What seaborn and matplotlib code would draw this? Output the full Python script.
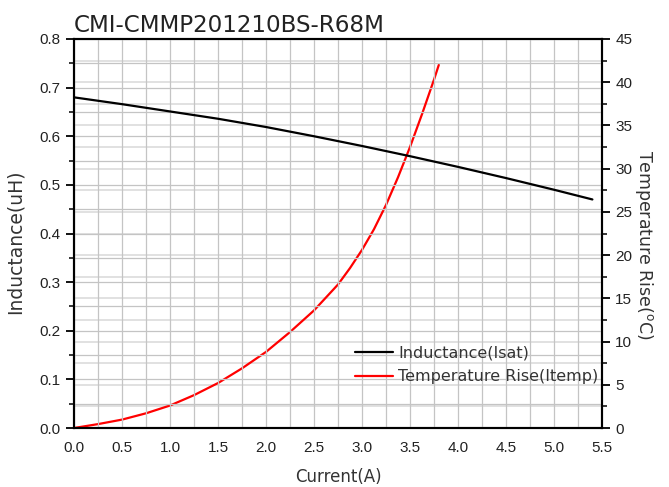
import numpy as np
import pandas as pd
import matplotlib
matplotlib.use("Agg")
import matplotlib.pyplot as plt
import seaborn as sns
from matplotlib.ticker import MultipleLocator

# Data
current_L = [0.0, 0.5, 1.0, 1.5, 2.0, 2.5, 3.0, 3.5, 4.0, 4.5, 5.0, 5.4]
inductance = [0.680, 0.666, 0.651, 0.636, 0.619, 0.600, 0.580, 0.559, 0.537, 0.514, 0.490, 0.470]
current_T = [0.0, 0.25, 0.5, 0.75, 1.0, 1.25, 1.5, 1.75, 2.0, 2.25, 2.5, 2.75, 2.875, 3.0,
             3.125, 3.25, 3.375, 3.5, 3.625, 3.75, 3.8]
temp_rise = [0.0, 0.45, 0.97, 1.7, 2.6, 3.8, 5.2, 6.9, 8.8, 11.1, 13.6, 16.6, 18.5, 20.6,
             23.0, 25.8, 29.0, 32.5, 36.3, 40.3, 42.0]

title = "CMI-CMMP201210BS-R68M"
label_L = "Inductance(Isat)"
label_T = "Temperature Rise(Itemp)"

sns.set_style("white")
plt.rcParams['font.family'] = ['Liberation Sans', 'DejaVu Sans']

fig = plt.figure(figsize=(6.69, 4.87), dpi=100)
ax = fig.add_axes([74/669, 1-428/487, (602-74)/669, (428-39)/487])
ax2 = ax.twinx()

dfL = pd.DataFrame({"x": current_L, "y": inductance})
dfT = pd.DataFrame({"x": current_T, "y": temp_rise})

ax.set_xlim(0, 5.5)
ax.set_ylim(0, 0.8)
ax2.set_ylim(0, 45)
ax.xaxis.set_major_locator(MultipleLocator(0.5))
ax.xaxis.set_minor_locator(MultipleLocator(0.25))
ax.yaxis.set_major_locator(MultipleLocator(0.1))
ax.yaxis.set_minor_locator(MultipleLocator(0.05))
ax2.yaxis.set_major_locator(MultipleLocator(5))
ax2.yaxis.set_minor_locator(MultipleLocator(2.5))

gcol = "#c4c4c4"
ax.grid(True, which="both", axis="x", color=gcol, lw=0.9)
ax.grid(True, which="both", axis="y", color=gcol, lw=0.9)
ax2.grid(True, which="both", axis="y", color="#dcdcdc", lw=1.2)
ax.set_axisbelow(True)
ax2.set_axisbelow(True)

ax.patch.set_visible(False)
ax2.set_zorder(ax.get_zorder() - 1)
ax2.patch.set_visible(True)
ax2.patch.set_facecolor("white")

sns.lineplot(data=dfL, x="x", y="y", ax=ax, color="black", lw=1.6, label=label_L, legend=False)
sns.lineplot(data=dfT, x="x", y="y", ax=ax2, color="red", lw=1.6, label=label_T, legend=False)

ax.set_xticks(np.arange(0, 5.51, 0.5))
ax.set_xticklabels([f"{v:.1f}" for v in np.arange(0, 5.51, 0.5)])
ax.set_yticks(np.arange(0, 0.81, 0.1))
ax.set_yticklabels([f"{v:.1f}" for v in np.arange(0, 0.81, 0.1)])

for a in (ax, ax2):
    for s in a.spines.values():
        s.set_color("black")
        s.set_linewidth(1.5)
    a.tick_params(which="major", direction="out", length=6, width=1.3, labelsize=11, color="black", labelcolor="#222222")
    a.tick_params(which="minor", direction="out", length=3.5, width=1.1, color="black")
ax.tick_params(axis="x", which="both", top=False)
ax.tick_params(axis="y", which="both", right=False, left=True)
ax2.tick_params(axis="y", which="both", left=False, right=True)

fam = ['DejaVu Sans']
ax.set_xlabel("Current(A)", labelpad=9, fontsize=12, family=fam, color="#333333")
ax.set_ylabel("Inductance(uH)", labelpad=7, fontsize=13.5, family=fam, color="#333333")
ax.yaxis.set_label_coords(-0.094, 0.48)
ax2.set_ylabel("Temperature Rise($^{\\mathrm{o}}$C)", rotation=270, labelpad=20, fontsize=12.5,
               family=fam, color="#333333")
ax2.yaxis.set_label_coords(1.1, 0.47)
ax2.set_xlabel("")

fig.text(74/669, 1-32/487, title, fontsize=16.6, family=fam, color="#222222", ha="left", va="baseline")

h1, l1 = ax.get_legend_handles_labels()
h2, l2 = ax2.get_legend_handles_labels()
leg = ax.legend(h1 + h2, l1 + l2, loc="center left", bbox_to_anchor=(0.505, 0.162), frameon=False,
                prop=dict(family=fam, size=11.5), handlelength=2.4, handletextpad=0.3,
                labelspacing=0.55)
for t in leg.get_texts():
    t.set_color("#333333")

fig.savefig("out.png", dpi=100)
